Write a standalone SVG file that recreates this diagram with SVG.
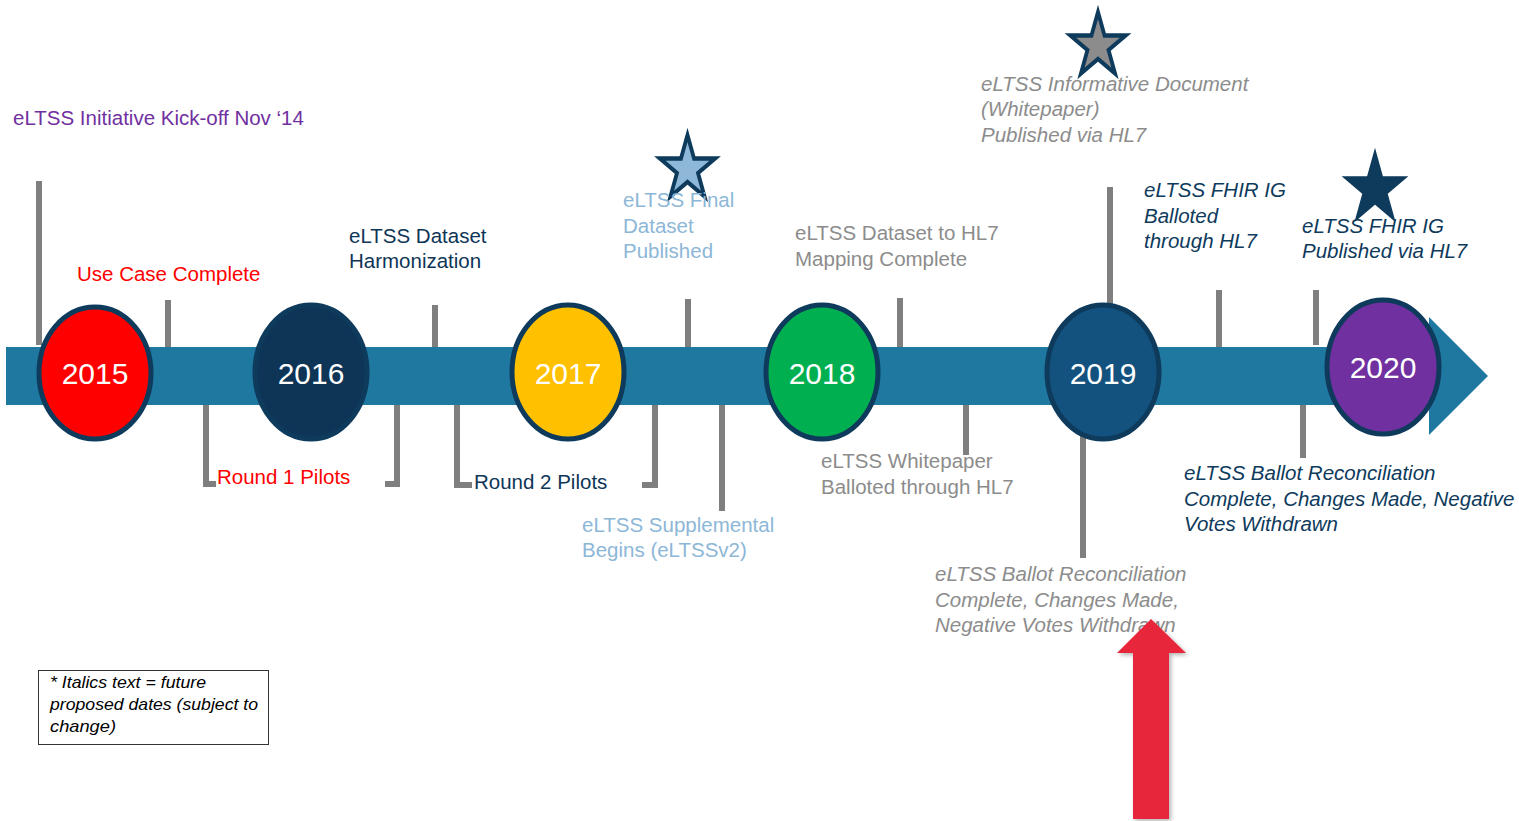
<svg xmlns="http://www.w3.org/2000/svg" width="1519" height="821" viewBox="0 0 1519 821">
<style>
text{font-family:"Liberation Sans",Arial,sans-serif;font-size:20.5px}
.it{font-style:italic}
.yr{font-size:30px;fill:#ffffff;text-anchor:middle}
.tick{stroke:#7f7f7f;stroke-width:6;fill:none}
.yc{stroke:#0e3a5c;stroke-width:5}
.red{fill:#ff0000}
.navy{fill:#0e3556}
.lb{fill:#8db7d7}
.gr{fill:#8c8c8c}
.dk{fill:#0e3a5c}
.star{stroke:#0e3a5c;stroke-width:0.13;stroke-linejoin:miter}
.note{font-size:17px;font-style:italic;fill:#000}
</style>
<defs>
<polygon id="st" points="0,-1 0.225,-0.309 0.951,-0.309 0.363,0.118 0.588,0.809 0,0.382 -0.588,0.809 -0.363,0.118 -0.951,-0.309 -0.225,-0.309"/>
<filter id="sh" x="-20%" y="-10%" width="150%" height="130%"><feDropShadow dx="2" dy="2" stdDeviation="2" flood-color="#000" flood-opacity="0.3"/></filter>
</defs>
<rect width="1519" height="821" fill="#ffffff"/>

<g id="connectors">
<polyline class="tick" points="39,181 39,345"/>
<polyline class="tick" points="168,300 168,348"/>
<polyline class="tick" points="206,404 206,484 216,484"/>
<polyline class="tick" points="385,484 397,484 397,404"/>
<polyline class="tick" points="435,305 435,350"/>
<polyline class="tick" points="457,404 457,485 472,485"/>
<polyline class="tick" points="642,485 655,485 655,404"/>
<polyline class="tick" points="688,299 688,350"/>
<polyline class="tick" points="722,403 722,511"/>
<polyline class="tick" points="900,298 900,348"/>
<polyline class="tick" points="966,403 966,455"/>
<polyline class="tick" points="1110,187 1110,310"/>
<polyline class="tick" points="1083,430 1083,558"/>
<polyline class="tick" points="1219,290 1219,350"/>
<polyline class="tick" points="1316,290 1316,345"/>
<polyline class="tick" points="1303,404 1303,458"/>
</g>

<g id="timeline">
<polygon points="6,347 1429,347 1429,317 1488,376 1429,435 1429,405 6,405" fill="#1e78a0"/>
</g>

<g id="y2015"><ellipse class="yc" cx="95" cy="373" rx="56" ry="66" fill="#ff0000"/><text class="yr" x="95" y="384">2015</text></g>
<g id="y2016"><ellipse class="yc" cx="311" cy="372" rx="56" ry="67" fill="#0e3556"/><text class="yr" x="311" y="384">2016</text></g>
<g id="y2017"><ellipse class="yc" cx="568" cy="372" rx="56" ry="67" fill="#ffc000"/><text class="yr" x="568" y="384">2017</text></g>
<g id="y2018"><ellipse class="yc" cx="822" cy="372" rx="56" ry="67" fill="#00b050"/><text class="yr" x="822" y="384">2018</text></g>
<g id="y2019"><ellipse class="yc" cx="1103" cy="372" rx="56" ry="67" fill="#13527e"/><text class="yr" x="1103" y="384">2019</text></g>
<g id="y2020"><ellipse class="yc" cx="1383" cy="367" rx="56" ry="67" fill="#7030a0"/><text class="yr" x="1383" y="378">2020</text></g>

<g id="kickoff"><text x="13" y="125" fill="#7030a0">eLTSS Initiative Kick-off Nov ‘14</text></g>
<g id="usecase"><text class="red" x="77" y="281">Use Case Complete</text></g>
<g id="round1"><text class="red" x="217" y="484">Round 1 Pilots</text></g>
<g id="harmonization"><text class="navy" x="349" y="243">eLTSS Dataset</text><text class="navy" x="349" y="268">Harmonization</text></g>
<g id="round2"><text class="navy" x="474" y="489">Round 2 Pilots</text></g>
<g id="finaldataset">
<use href="#st" class="star" fill="#8fb8d8" transform="translate(687.5,169) scale(29,34)"/>
<text class="lb" x="623" y="207">eLTSS Final</text><text class="lb" x="623" y="233">Dataset</text><text class="lb" x="623" y="258">Published</text></g>
<g id="supplemental"><text class="lb" x="582" y="532">eLTSS Supplemental</text><text class="lb" x="582" y="557">Begins (eLTSSv2)</text></g>
<g id="mapping"><text class="gr" x="795" y="240">eLTSS Dataset to HL7</text><text class="gr" x="795" y="266">Mapping Complete</text></g>
<g id="whitepaper"><text class="gr" x="821" y="468">eLTSS Whitepaper</text><text class="gr" x="821" y="494">Balloted through HL7</text></g>
<g id="informative">
<use href="#st" class="star" fill="#8c8c8c" transform="translate(1098,46) scale(29,34)"/>
<text class="gr it" x="981" y="91">eLTSS Informative Document</text><text class="gr it" x="981" y="116">(Whitepaper)</text><text class="gr it" x="981" y="142">Published via HL7</text></g>
<g id="reconciliation1"><text class="gr it" x="935" y="581">eLTSS Ballot Reconciliation</text><text class="gr it" x="935" y="607">Complete, Changes Made,</text><text class="gr it" x="935" y="632">Negative Votes Withdrawn</text></g>
<g id="fhirballot"><text class="dk it" x="1144" y="197">eLTSS FHIR IG</text><text class="dk it" x="1144" y="223">Balloted</text><text class="dk it" x="1144" y="248">through HL7</text></g>
<g id="fhirpublished">
<use href="#st" class="star" fill="#0e3a5c" transform="translate(1375,189) scale(29,34)"/>
<text class="dk it" x="1302" y="233">eLTSS FHIR IG</text><text class="dk it" x="1302" y="258">Published via HL7</text></g>
<g id="reconciliation2"><text class="dk it" x="1184" y="480">eLTSS Ballot Reconciliation</text><text class="dk it" x="1184" y="506">Complete, Changes Made, Negative</text><text class="dk it" x="1184" y="531">Votes Withdrawn</text></g>

<g id="current">
<polygon points="1151,619 1186,653 1169,653 1169,819 1133,819 1133,653 1117,653" fill="#e8253b" filter="url(#sh)"/>
</g>

<g id="note">
<rect x="38.5" y="670.5" width="230" height="74" fill="#ffffff" stroke="#333333" stroke-width="1"/>
<text class="note" x="50" y="688" textLength="156" lengthAdjust="spacingAndGlyphs">* Italics text = future</text>
<text class="note" x="50" y="710" textLength="208" lengthAdjust="spacingAndGlyphs">proposed dates (subject to</text>
<text class="note" x="50" y="732" textLength="66" lengthAdjust="spacingAndGlyphs">change)</text>
</g>
</svg>
